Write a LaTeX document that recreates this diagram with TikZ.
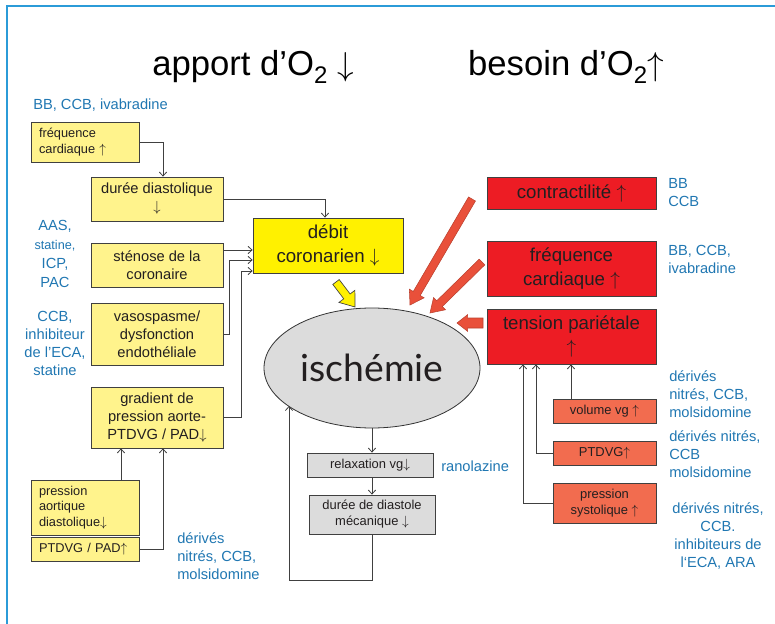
\documentclass[tikz,border=0pt]{standalone}
\usepackage{fontspec}
\setmainfont{Liberation Sans}
\newfontfamily\ischfont{Lato}
\usetikzlibrary{calc,shapes.geometric,arrows.meta}

\definecolor{paleyellow}{HTML}{FFF38C}
\definecolor{debyellow}{HTML}{FFF100}
\definecolor{boxred}{HTML}{ED1C24}
\definecolor{boxorange}{HTML}{F26C4F}
\definecolor{fatred}{HTML}{E9503A}
\definecolor{boxgray}{HTML}{DCDCDC}
\definecolor{drugblue}{HTML}{2077B2}
\definecolor{bordblue}{HTML}{2B9BD8}
\definecolor{textdark}{HTML}{231F20}
\definecolor{linegray}{HTML}{404040}

% lowered index for the titles
\newcommand{\lowtwo}{\raisebox{-0.22em}{\fontsize{18}{18}\selectfont 2}}
% block arrow: style, from, to, shaft half width, head half width, head length
\newcommand{\fatarrow}[6]{%
  \path[#1] let \p1=($(#3)!#6!(#2)$) in
    ($(#2)!#4!90:(#3)$) -- ($(\p1)!#4!-90:(#2)$) -- ($(\p1)!#5!-90:(#2)$)
    -- (#3) -- ($(\p1)!#5!90:(#2)$) -- ($(\p1)!#4!90:(#2)$)
    -- ($(#2)!#4!-90:(#3)$) -- cycle;}

\begin{document}
\begin{tikzpicture}
[x=0.75pt,y=-0.75pt,
  box/.style={draw=linegray,line width=0.6pt,inner sep=2pt,align=center,text=textdark},
  ybox/.style={box,fill=paleyellow,minimum width=99pt,font=\fontsize{11}{13.5}\selectfont},
  ysmall/.style={box,fill=paleyellow,text width=69pt,inner xsep=6pt,align=left,
    font=\fontsize{9.6}{11.8}\selectfont},
  redbox/.style={box,fill=boxred,minimum width=126.75pt,font=\fontsize{14}{18}\selectfont},
  orbox/.style={box,fill=boxorange,minimum width=77.25pt,font=\fontsize{9.7}{11.5}\selectfont},
  graybox/.style={box,fill=boxgray,minimum width=94.5pt,font=\fontsize{9.7}{12}\selectfont},
  drug/.style={text=drugblue,inner sep=0pt,font=\fontsize{11}{13.5}\selectfont},
  conn/.style={draw=linegray,line width=0.6pt,-{Straight Barb[length=3pt,width=5.5pt]}}]
\useasboundingbox (0,0) rectangle (775,624);
\draw[bordblue,line width=1.5pt] (6.5,624) -- (6.5,6.5) -- (775,6.5);

%% titles
\node (apport) at (253,67) {\fontsize{26}{30}\selectfont apport d’O\lowtwo\ $\downarrow$};
\node (besoin) at (566,67) {\fontsize{26}{30}\selectfont besoin d’O\lowtwo$\uparrow$};

%% supply side
\node (fc) at (85,142) [ysmall,minimum height=30pt] {fréquence\\cardiaque $\uparrow$};
\node (dd) at (157,199) [ybox,minimum height=33pt] {durée diastolique\\$\downarrow$};
\node (sc) at (157,265) [ybox,minimum height=33pt] {sténose de la\\coronaire};
\node (vs) at (157,334) [ybox,minimum height=46.5pt] {vasospasme/\\dysfonction\\endothéliale};
\node (gp) at (157,417.5) [ybox,minimum height=45.75pt] {gradient de\\pression aorte-\\PTDVG / PAD$\downarrow$};
\node (pa) at (85,507.5) [ysmall,minimum height=41.25pt] {pression\\aortique\\diastolique$\downarrow$};
\node (pt) at (85,549) [ysmall,minimum height=18pt] {PTDVG / PAD$\uparrow$};
\node (deb) at (328,245.5) [box,fill=debyellow,minimum width=112.5pt,minimum height=41.25pt,
  font=\fontsize{14}{18.5}\selectfont] {débit\\coronarien $\downarrow$};

%% ischemia and consequences
\node (isch) at (372,368) [ellipse,draw=black!80,fill=boxgray,line width=0.6pt,inner sep=0pt,
  minimum width=162pt,minimum height=90pt,text=textdark,
  font=\ischfont\fontsize{28}{30}\selectfont] {ischémie};
\node (rel) at (370,465) [graybox,minimum height=18pt] {relaxation vg$\downarrow$};
\node (dur) at (372,514.5) [graybox,minimum height=29.25pt] {durée de diastole\\mécanique $\downarrow$};

%% demand side
\node (con) at (571.5,193) [redbox,minimum height=24pt] {contractilité $\uparrow$};
\node (fq) at (571.5,268.5) [redbox,minimum height=41.25pt] {fréquence\\cardiaque $\uparrow$};
\node (tp) at (571.5,336.5) [redbox,minimum height=41.25pt] {tension pariétale\\$\uparrow$};
\node (vol) at (604.5,411) [orbox,minimum height=18pt] {volume vg $\uparrow$};
\node (ptd) at (604.5,453) [orbox,minimum height=18pt] {PTDVG$\uparrow$};
\node (ps) at (604.5,503) [orbox,minimum height=30pt] {pression\\systolique $\uparrow$};

%% drugs
\node (d1) at (33,105) [drug,anchor=west] {BB, CCB, ivabradine};
\node (d2) at (55,254) [drug,align=center,font=\fontsize{11}{14.25}\selectfont]
  {AAS,\\{\fontsize{9.5}{11}\selectfont statine,}\\ICP,\\PAC};
\node (d3) at (55,343) [drug,align=center] {CCB,\\inhibiteur\\de l’ECA,\\statine};
\node (d4) at (177,556.5) [drug,anchor=west,align=left] {dérivés\\nitrés, CCB,\\molsidomine};
\node (d5) at (441,466) [drug,anchor=west] {ranolazine};
\node (d6) at (668,193) [drug,anchor=west,align=left] {BB\\CCB};
\node (d7) at (668,259) [drug,anchor=west,align=left] {BB, CCB,\\ivabradine};
\node (d8) at (669,394) [drug,anchor=west,align=left] {dérivés\\nitrés, CCB,\\molsidomine};
\node (d9) at (669,454) [drug,anchor=west,align=left] {dérivés nitrés,\\CCB\\molsidomine};
\node (d10) at (718,536.5) [drug,align=center] {dérivés nitrés,\\CCB.\\inhibiteurs de\\l‘ECA, ARA};

%% thin connectors
\draw[conn] (fc.east) -| ($(dd.north)+(6,0)$);
\draw[conn] (dd.east) -| ($(deb.north)+(-3,0)$);
\draw[conn] (sc.east |- 0,250) -- (deb.west |- 0,250);
\draw[conn] (vs.east) -- ++(6,0) |- (deb.west |- 0,260);
\draw[conn] (gp.east) -- ++(18,0) |- (deb.west |- 0,271);
\draw[conn] (pa.north -| 121,0) -- (gp.south -| 121,0);
\draw[conn] (pt.east) -| (gp.south -| 163,0);
\draw[conn] (isch.south) -- (rel.north -| isch.south);
\draw[conn] (rel.south -| isch.south) -- (dur.north -| isch.south);
\draw[conn] (dur.south -| isch.south) -- ++(0,46) -| ($(isch.center)+(-83,38)$);
\draw[conn] (vol.north -| 571,0) -- (tp.south -| 571,0);
\foreach \src/\xx in {ptd/536, ps/523}
  \draw[conn] (\src.west) -| (tp.south -| \xx,0);

%% block arrows
\fatarrow{fill=debyellow,draw=black!75,line width=0.5pt}{336,282}{355,307}{3pt}{7.5pt}{10pt}
\fatarrow{fill=fatred,draw=fatred!80!black,line width=0.4pt}{472,199}{410,305}{3pt}{6.4pt}{10pt}
\fatarrow{fill=fatred,draw=fatred!80!black,line width=0.4pt}{482,262}{430,313}{3pt}{6.4pt}{10pt}
\fatarrow{fill=fatred,draw=fatred!80!black,line width=0.4pt}{483,323}{457,323}{3.75pt}{6.3pt}{8pt}
\end{tikzpicture}
\end{document}
